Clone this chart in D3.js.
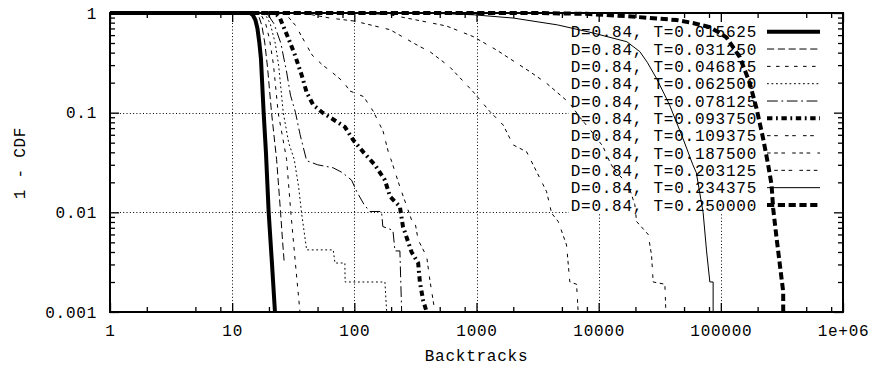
<!DOCTYPE html>
<html>
<head>
<meta charset="utf-8">
<script src="https://cdn.jsdelivr.net/npm/d3@7"></script>
<style>
  html, body { margin: 0; padding: 0; background: #fff; }
  svg { display: block; }
  text { font-family: "Liberation Mono", "DejaVu Sans Mono", monospace; font-size: 16px; letter-spacing: 0.75px; fill: #000; }
</style>
</head>
<body>
<svg id="chart" width="872" height="366"></svg>
<script>
// Tail distribution (1 - CDF) of backtrack counts, D = 0.84, for several T values.
const densityLabel = "0.84";
const thresholdLabels = ["0.015625", "0.031250", "0.046875", "0.062500", "0.078125", "0.093750",
                         "0.109375", "0.187500", "0.203125", "0.234375", "0.250000"];

const xTickValues = [1, 10, 100, 1000, 10000, 100000, 1000000];
const xTickLabels = ["1", "10", "100", "1000", "10000", "100000", "1e+06"];
const yTickValues = [0.001, 0.01, 0.1, 1];
const yTickLabels = ["0.001", "0.01", "0.1", "1"];

// [backtracks, 1 - CDF]
const t015625 = [[1,1],[14,1],[14.8,0.95],[15.5,0.85],[16.1,0.7],[16.7,0.5],[17.2,0.35],[18.1,0.1],[18.9,0.04],[19.9,0.01],[21.2,0.003],[22.4,0.001]];
const t031250 = [[1,1],[15.5,1],[16.5,0.93],[17.5,0.75],[18.5,0.5],[19.5,0.28],[21,0.1],[23.1,0.034],[24.9,0.01],[25.9,0.005],[26.7,0.0031]];
const t046875 = [[1,1],[16.5,1],[17.5,0.93],[18.8,0.78],[20.2,0.55],[21.8,0.3],[23.8,0.1],[27.9,0.034],[30.2,0.01],[33,0.003],[35.9,0.001]];
const t062500 = [[1,1],[17.5,1],[19,0.93],[20.5,0.78],[22.5,0.5],[24,0.3],[26.2,0.1],[29,0.05],[32.2,0.034],[35,0.018],[37,0.0098],[40.7,0.0042],[67.2,0.0042],[69.4,0.0031],[83.7,0.0031],[84,0.002],[178,0.002],[184,0.001]];
const t078125 = [[1,1],[18.5,1],[20,0.93],[22,0.78],[25,0.5],[28,0.25],[30,0.15],[33,0.1],[36,0.06],[40.7,0.033],[50,0.03],[67,0.028],[80,0.025],[95,0.021],[105,0.016],[120,0.012],[134,0.0102],[167,0.0102],[171,0.0072],[207,0.0066],[215,0.0041],[236,0.0041],[244,0.001]];
const t093750 = [[1,1],[22.5,1],[24.6,0.89],[28.8,0.56],[32.6,0.38],[37,0.24],[40.7,0.16],[46,0.12],[55,0.1],[63,0.09],[83.7,0.072],[98,0.053],[119,0.04],[147,0.03],[178,0.021],[196,0.0144],[236,0.0114],[250,0.0072],[294,0.004],[333,0.0031],[344,0.002],[366,0.0013],[391,0.001]];
const t109375 = [[1,1],[25,1],[28,0.95],[33,0.75],[39,0.52],[45,0.38],[55,0.3],[63,0.265],[81,0.205],[92,0.165],[119,0.145],[143,0.103],[172,0.065],[190,0.04],[202,0.0325],[236,0.018],[294,0.0084],[313,0.0081],[333,0.0053],[391,0.0036],[415,0.0021],[457,0.001]];
const t187500 = [[1,1],[35,1],[45,0.96],[63,0.89],[100,0.83],[196,0.68],[344,0.46],[415,0.41],[600,0.29],[939,0.162],[1288,0.1025],[1653,0.0752],[1995,0.0475],[2570,0.0405],[3103,0.0256],[3748,0.0161],[4119,0.0098],[4662,0.0081],[5458,0.0047],[5808,0.002],[6593,0.0019],[6794,0.001]];
const t203125 = [[1,1],[90,1],[150,0.98],[196,0.96],[415,0.8],[569,0.74],[939,0.58],[1460,0.425],[2735,0.258],[3748,0.197],[5808,0.124],[7000,0.09],[8472,0.068],[10820,0.046],[12350,0.032],[13570,0.026],[16900,0.02],[17990,0.017],[19780,0.0119],[20420,0.0081],[25420,0.006],[27100,0.0037],[27930,0.002],[34830,0.0019],[35480,0.001]];
const t234375 = [[1,1],[400,1],[939,0.96],[1995,0.89],[4600,0.76],[9000,0.63],[17000,0.515],[21700,0.41],[25000,0.32],[29800,0.22],[38000,0.12],[49000,0.055],[59000,0.03],[63000,0.025],[67000,0.016],[71600,0.01],[76400,0.0041],[81300,0.002],[86500,0.002],[86500,0.001]];
const t250000 = [[1,1],[3000,1],[8000,0.98],[16900,0.93],[30000,0.88],[43400,0.85],[60000,0.79],[81300,0.72],[100000,0.62],[111000,0.57],[143000,0.36],[172000,0.2],[196000,0.11],[222000,0.055],[244000,0.03],[260000,0.019],[268000,0.011],[286000,0.0055],[304000,0.003],[324000,0.0016],[324000,0.001]];

const seriesData = [t015625, t031250, t046875, t062500, t078125, t093750, t109375, t187500, t203125, t234375, t250000];

// Line styles, one per series (width, dash pattern)
const dashUnit = 1.8;
const dash = arr => arr.map(v => v * dashUnit).join(",");
const lineStyles = [
  { w: 4, d: null },
  { w: 1, d: dash([4, 2]) },
  { w: 1, d: dash([2, 3]) },
  { w: 1, d: dash([1, 1.5]) },
  { w: 1, d: dash([6, 2, 1, 2]) },
  { w: 4, d: dash([3, 2, 1, 2]) },
  { w: 1, d: dash([2, 2, 2, 4]) },
  { w: 1, d: dash([2, 2, 2, 2, 2, 4]) },
  { w: 1, d: dash([2, 2, 2, 2, 2, 2, 2, 4]) },
  { w: 1, d: null },
  { w: 4, d: dash([4, 2]) }
];

const svg = d3.select("#chart");
const plotLeft = 110, plotRight = 843, plotTop = 13, plotBottom = 312;

const x = d3.scaleLog().domain([1, 1e6]).range([plotLeft, plotRight]);
const y = d3.scaleLog().domain([0.001, 1]).range([plotBottom, plotTop]);

svg.append("rect").attr("width", 872).attr("height", 366).attr("fill", "#fff");

// Grid
const grid = svg.append("g").attr("stroke", "#000").attr("stroke-width", 1).attr("stroke-dasharray", "1,2.3");
grid.selectAll("line.gx").data(xTickValues.slice(1, -1)).join("line").attr("class", "gx")
  .attr("x1", d => Math.round(x(d)) + 0.5).attr("x2", d => Math.round(x(d)) + 0.5)
  .attr("y1", plotTop).attr("y2", plotBottom);
grid.selectAll("line.gy").data(yTickValues.slice(1, -1)).join("line").attr("class", "gy")
  .attr("y1", d => Math.round(y(d)) + 0.5).attr("y2", d => Math.round(y(d)) + 0.5)
  .attr("x1", plotLeft).attr("x2", plotRight);

// Legend box (opaque)
const legendTop = 31.7, legendStep = 17.33;
svg.append("rect").attr("x", 569).attr("y", 22).attr("width", plotRight - 569).attr("height", 192).attr("fill", "#fff");

const legend = svg.append("g");
thresholdLabels.forEach((t, i) => {
  const ly = legendTop + i * legendStep;
  legend.append("text")
    .attr("x", 757).attr("y", ly).attr("dy", "0.35em")
    .attr("text-anchor", "end")
    .text(`D=${densityLabel}, T=${t}`);
  const s = lineStyles[i];
  legend.append("line")
    .attr("x1", 767).attr("x2", 820).attr("y1", ly).attr("y2", ly)
    .attr("stroke", "#000").attr("stroke-width", s.w)
    .attr("stroke-dasharray", s.d);
});

// Curves
const line = d3.line().x(d => x(d[0])).y(d => y(d[1]));
svg.append("g").selectAll("path").data(seriesData).join("path")
  .attr("d", line)
  .attr("fill", "none")
  .attr("stroke", "#000")
  .attr("stroke-width", (d, i) => lineStyles[i].w)
  .attr("stroke-dasharray", (d, i) => lineStyles[i].d)
  .attr("stroke-linejoin", "miter");

// Axes (ticks point inward on all four sides)
const xMinor = [];
for (let k = 0; k < 6; k++) [2, 5, 8].forEach(m => xMinor.push(m * Math.pow(10, k)));
const yMinor = [];
for (let k = -3; k < 0; k++) [2, 3, 4, 5, 6, 7, 8, 9].forEach(m => yMinor.push(m * Math.pow(10, k)));

function styleAxis(g) {
  g.select(".domain").remove();
  g.selectAll(".tick line").attr("stroke", "#000").attr("stroke-width", 1.3);
  g.selectAll(".tick text").attr("font-family", null).attr("font-size", null);
}

svg.append("g").attr("transform", `translate(0,${plotBottom})`)
  .call(d3.axisBottom(x).tickValues(xTickValues).tickFormat((d, i) => xTickLabels[i]).tickSize(-9).tickPadding(13))
  .call(styleAxis);
svg.append("g").attr("transform", `translate(0,${plotBottom})`)
  .call(d3.axisBottom(x).tickValues(xMinor).tickFormat("").tickSize(-5))
  .call(styleAxis);
svg.append("g").attr("transform", `translate(0,${plotTop})`)
  .call(d3.axisTop(x).tickValues(xTickValues).tickFormat("").tickSize(-9))
  .call(styleAxis);
svg.append("g").attr("transform", `translate(0,${plotTop})`)
  .call(d3.axisTop(x).tickValues(xMinor).tickFormat("").tickSize(-5))
  .call(styleAxis);

svg.append("g").attr("transform", `translate(${plotLeft},0)`)
  .call(d3.axisLeft(y).tickValues(yTickValues).tickFormat((d, i) => yTickLabels[i]).tickSize(-9).tickPadding(13))
  .call(styleAxis);
svg.append("g").attr("transform", `translate(${plotLeft},0)`)
  .call(d3.axisLeft(y).tickValues(yMinor).tickFormat("").tickSize(-5))
  .call(styleAxis);
svg.append("g").attr("transform", `translate(${plotRight},0)`)
  .call(d3.axisRight(y).tickValues(yTickValues).tickFormat("").tickSize(-9))
  .call(styleAxis);
svg.append("g").attr("transform", `translate(${plotRight},0)`)
  .call(d3.axisRight(y).tickValues(yMinor).tickFormat("").tickSize(-5))
  .call(styleAxis);

// Border
svg.append("rect")
  .attr("x", plotLeft).attr("y", plotTop).attr("width", plotRight - plotLeft).attr("height", plotBottom - plotTop)
  .attr("fill", "none").attr("stroke", "#000").attr("stroke-width", 2);

// Axis titles
svg.append("text")
  .attr("x", (plotLeft + plotRight) / 2).attr("y", 355).attr("dy", "0.35em")
  .attr("text-anchor", "middle").text("Backtracks");
svg.append("text")
  .attr("transform", "translate(19,163) rotate(-90)")
  .attr("dy", "0.35em").attr("text-anchor", "middle").text("1 - CDF");
</script>
</body>
</html>
